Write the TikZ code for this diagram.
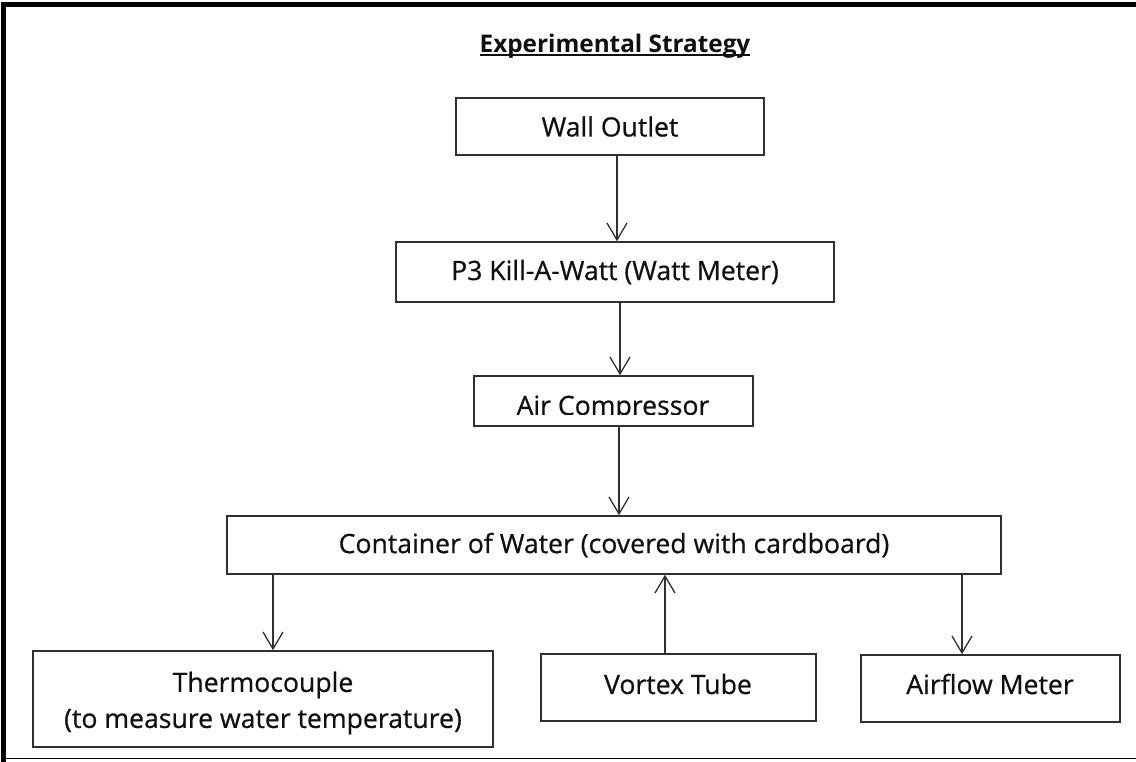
\documentclass[tikz,border=0pt]{standalone}
\usepackage{fontspec}
\setmainfont{Open Sans}
\newfontfamily\boxfont[FakeBold=0.6]{Open Sans}
\usetikzlibrary{arrows.meta}
\definecolor{txt}{HTML}{101010}
\definecolor{edge}{HTML}{303030}
\tikzset{
  box/.style={draw=edge, line width=1.5pt, inner sep=0pt, align=center, text=txt,
    font=\boxfont\fontsize{26.6}{36}\selectfont},
  conn/.style={draw=edge, line width=1.3pt, -{Straight Barb[length=17pt,width=20pt,line width=1.3pt]}},
}
\newcommand{\ulbold}[1]{\setbox0\hbox{#1}\rlap{\rule[-4pt]{\wd0}{2pt}}\box0}
\begin{document}
\begin{tikzpicture}[x=1pt,y=-1pt]
\useasboundingbox (0,0) rectangle (1136,761);
\fill[white] (0,0) rectangle (1136,761);
% outer frame
\draw[line width=4.5pt] (3.5,770) -- (3.5,4.5) -- (1150,4.5);
\draw[line width=1.8pt] (3.5,758.5) -- (1150,758.5);
% title
\node[text=txt, font=\bfseries\fontsize{24.3}{28}\selectfont] (title) at (615,46) {\ulbold{Experimental Strategy}};
% boxes
\node[box, minimum width=308pt, minimum height=57pt] (wo) at (610,126.5) {Wall Outlet};
\node[box, minimum width=438pt, minimum height=60pt] (kw) at (615,272) {P3 Kill-A-Watt (Watt Meter)};
\node[box, minimum width=279pt, minimum height=50pt] (ac) at (613.5,401) {};
\begin{scope}
\clip (474,376) rectangle (753,414.5);
\node[box, draw=none, anchor=base] (actext) at (613,415) {Air Compressor};
\end{scope}
\node[box, minimum width=774pt, minimum height=58pt] (cw) at (614,545) {Container of Water (covered with cardboard)};
\node[box, minimum width=460pt, minimum height=96pt] (tc) at (263,699) {};
\node[box, draw=none] (tctext) at (263,703) {Thermocouple\\(to measure water temperature)};
\node[box, minimum width=275pt, minimum height=67pt] (vt) at (678.5,687.5) {};
\node[box, draw=none] (vttext) at (678,684) {Vortex Tube};
\node[box, minimum width=259pt, minimum height=67pt] (af) at (990.5,688.5) {};
\node[box, draw=none] (aftext) at (990,684) {Airflow Meter};
% connectors
\draw[conn] (wo.south -| 617,0) -- (kw.north -| 617,0);
\draw[conn] (kw.south -| 620,0) -- (ac.north -| 620,0);
\draw[conn] (ac.south -| 619,0) -- (cw.north -| 619,0);
\draw[conn] (cw.south -| 273,0) -- (tc.north -| 273,0);
\draw[conn] (vt.north -| 665,0) -- (cw.south -| 665,0);
\draw[conn] (cw.south -| 962,0) -- (af.north -| 962,0);
\end{tikzpicture}
\end{document}
